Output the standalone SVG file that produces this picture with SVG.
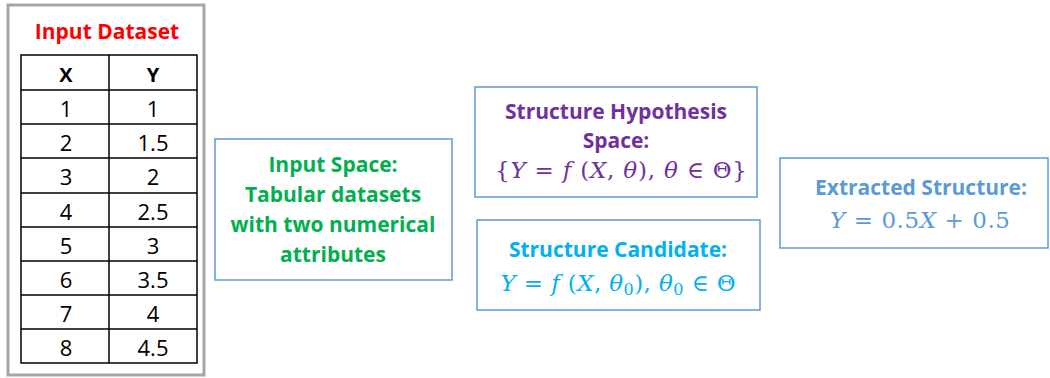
<svg xmlns="http://www.w3.org/2000/svg" width="1050" height="378" viewBox="0 0 1050 378">
  <style>
    .box { fill: #ffffff; stroke: #5b9bd5; stroke-width: 1.5; }
    .lbl { font-family: "Open Sans", Lato, sans-serif; font-weight: bold; font-size: 21px; text-anchor: middle; }
    .cell { font-family: "Open Sans", Lato, sans-serif; font-size: 22px; text-anchor: middle; fill: #000000; }
    .hdr { font-weight: bold; font-size: 20px; }
    .math { font-family: "DejaVu Serif", "Liberation Serif", serif; font-size: 23px; text-anchor: middle; }
    .it { font-style: italic; }
    .grid { stroke: #000000; stroke-width: 1.5; fill: none; }
  </style>

  <rect width="1050" height="378" fill="#ffffff"/>

  <!-- dataset panel -->
  <g id="input-dataset">
    <rect x="8" y="5" width="196" height="370" fill="#ffffff" stroke="#a6a6a6" stroke-width="3"/>
    <text class="lbl" x="107" y="39" fill="#ff0000">Input Dataset</text>
    <rect class="grid" x="21" y="55" width="176" height="308"/>
    <line class="grid" x1="109" y1="55" x2="109" y2="363" stroke-width="2"/>
    <line class="grid" x1="21" y1="90" x2="197" y2="90"/>
    <line class="grid" x1="21" y1="124" x2="197" y2="124"/>
    <line class="grid" x1="21" y1="158" x2="197" y2="158"/>
    <line class="grid" x1="21" y1="193" x2="197" y2="193"/>
    <line class="grid" x1="21" y1="227" x2="197" y2="227"/>
    <line class="grid" x1="21" y1="261" x2="197" y2="261"/>
    <line class="grid" x1="21" y1="295" x2="197" y2="295"/>
    <line class="grid" x1="21" y1="329" x2="197" y2="329"/>
    <text class="cell hdr" x="66" y="82">X</text>
    <text class="cell hdr" x="153" y="82">Y</text>
    <text class="cell" x="66" y="117">1</text><text class="cell" x="153" y="117">1</text>
    <text class="cell" x="66" y="151">2</text><text class="cell" x="153" y="151">1.5</text>
    <text class="cell" x="66" y="185">3</text><text class="cell" x="153" y="185">2</text>
    <text class="cell" x="66" y="220">4</text><text class="cell" x="153" y="220">2.5</text>
    <text class="cell" x="66" y="254">5</text><text class="cell" x="153" y="254">3</text>
    <text class="cell" x="66" y="288">6</text><text class="cell" x="153" y="288">3.5</text>
    <text class="cell" x="66" y="322">7</text><text class="cell" x="153" y="322">4</text>
    <text class="cell" x="66" y="356">8</text><text class="cell" x="153" y="356">4.5</text>
  </g>

  <g id="input-space">
    <rect class="box" x="215" y="139" width="237" height="141"/>
    <text class="lbl" fill="#00b050" x="333" y="172">Input Space:</text>
    <text class="lbl" fill="#00b050" x="333" y="202">Tabular datasets</text>
    <text class="lbl" fill="#00b050" x="333" y="232">with two numerical</text>
    <text class="lbl" fill="#00b050" x="333" y="262">attributes</text>
  </g>

  <g id="hypothesis-space">
    <rect class="box" x="475" y="87" width="282" height="110"/>
    <text class="lbl" fill="#7030a0" x="616" y="119">Structure Hypothesis</text>
    <text class="lbl" fill="#7030a0" x="616" y="148">Space:</text>
    <text class="math" fill="#7030a0" x="621" y="178" textLength="252" lengthAdjust="spacing">{<tspan class="it">Y</tspan> = <tspan class="it">f</tspan> (<tspan class="it">X</tspan>, <tspan class="it">θ</tspan>), <tspan class="it">θ</tspan> ∈ Θ}</text>
  </g>

  <g id="structure-candidate">
    <rect class="box" x="477" y="220" width="283" height="90"/>
    <text class="lbl" fill="#00b0f0" x="618" y="257">Structure Candidate:</text>
    <text class="math" fill="#00b0f0" x="618" y="291" textLength="235" lengthAdjust="spacing"><tspan class="it">Y</tspan> = <tspan class="it">f</tspan> (<tspan class="it">X</tspan>, <tspan class="it">θ</tspan><tspan font-size="16" dy="4">0</tspan><tspan dy="-4">), </tspan><tspan class="it">θ</tspan><tspan font-size="16" dy="4">0</tspan><tspan dy="-4"> ∈ Θ</tspan></text>
  </g>

  <g id="extracted-structure">
    <rect class="box" x="780" y="158" width="268" height="90"/>
    <text class="lbl" fill="#5b9bd5" x="921" y="195">Extracted Structure:</text>
    <text class="math" fill="#5b9bd5" x="920" y="228" textLength="180" lengthAdjust="spacing"><tspan class="it">Y</tspan> = 0.5<tspan class="it">X</tspan> + 0.5</text>
  </g>

  <g id="connectors"></g>
</svg>
